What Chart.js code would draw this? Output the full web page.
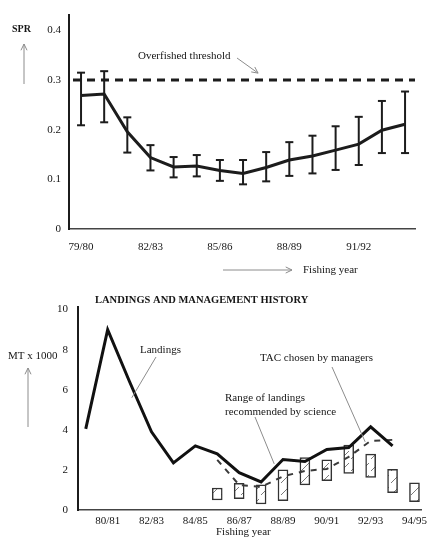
<!DOCTYPE html>
<html>
<head>
<meta charset="utf-8">
<script src="https://cdn.jsdelivr.net/npm/chart.js@4.4.1/dist/chart.umd.min.js"></script>
<style>
html, body { margin: 0; padding: 0; background: #fff; }
#wrap { position: relative; width: 432px; height: 537px; overflow: hidden; }
#top { position: absolute; left: 0; top: 0; }
#bottom { position: absolute; left: 0; top: 280px; }
</style>
</head>
<body>
<div id="wrap">
  <canvas id="top" width="432" height="280"></canvas>
  <canvas id="bottom" width="432" height="257"></canvas>
</div>
<script>
// --- SPR panel data
const sprYears = ['79/80', '80/81', '81/82', '82/83', '83/84', '84/85', '85/86', '86/87', '87/88', '88/89', '89/90', '90/91', '91/92', '92/93', '93/94']
const spr = [0.269, 0.272, 0.196, 0.144, 0.125, 0.127, 0.118, 0.112, 0.124, 0.139, 0.147, 0.159, 0.171, 0.199, 0.211]
const sprHi = [0.315, 0.318, 0.225, 0.169, 0.145, 0.149, 0.139, 0.139, 0.155, 0.175, 0.188, 0.207, 0.226, 0.258, 0.277]
const sprLo = [0.209, 0.215, 0.154, 0.118, 0.104, 0.106, 0.097, 0.090, 0.096, 0.107, 0.112, 0.119, 0.129, 0.153, 0.153]
const sprTickIdx = [0, 3, 6, 9, 12]
const sprTicks = [0, 0.1, 0.2, 0.3, 0.4]
const threshold = 0.3

// --- landings panel data
const landYears = ['79/80', '80/81', '81/82', '82/83', '83/84', '84/85', '85/86', '86/87', '87/88', '88/89', '89/90', '90/91', '91/92', '92/93', '93/94', '94/95']
const landings = [4.05, 9.0, 6.4, 3.9, 2.35, 3.2, 2.8, 1.86, 1.4, 2.52, 2.42, 3.02, 3.12, 4.15, 3.2]
const tacIdx = [6, 7, 8, 9, 10, 11, 12, 13, 14]
const tac = [2.5, 1.25, 1.15, 1.68, 1.95, 2.05, 2.65, 3.45, 3.5]
const boxIdx = [6, 7, 8, 9, 10, 11, 12, 13, 14, 15]
const boxLo = [0.5, 0.57, 0.3, 0.46, 1.25, 1.46, 1.83, 1.63, 0.86, 0.41]
const boxHi = [1.1, 1.33, 1.25, 2.0, 2.62, 2.5, 3.24, 2.79, 2.03, 1.36]
const landTickIdx = [1, 3, 5, 7, 9, 11, 13, 15]
const landTicks = [0, 2, 4, 6, 8, 10]

Chart.defaults.font.family = '"Liberation Serif", "DejaVu Serif", serif'
Chart.defaults.font.size = 11
Chart.defaults.color = '#151515'

const INK = '#1c1c1c'
const THIN = '#8c8c8c'

function arrow(ctx, x1, y1, x2, y2) {
    const a = Math.atan2(y2 - y1, x2 - x1)
    ctx.beginPath()
    ctx.moveTo(x1, y1)
    ctx.lineTo(x2, y2)
    ctx.moveTo(x2 - 7 * Math.cos(a - 0.45), y2 - 7 * Math.sin(a - 0.45))
    ctx.lineTo(x2, y2)
    ctx.lineTo(x2 - 7 * Math.cos(a + 0.45), y2 - 7 * Math.sin(a + 0.45))
    ctx.stroke()
}

function line(ctx, x1, y1, x2, y2) {
    ctx.beginPath()
    ctx.moveTo(x1, y1)
    ctx.lineTo(x2, y2)
    ctx.stroke()
}

// notes: plain text labels + leader lines drawn after the chart
function notes(texts, draw) {
    return {
        id: 'notes',
        afterDraw(chart) {
            const ctx = chart.ctx
            ctx.save()
            ctx.fillStyle = '#151515'
            ctx.textBaseline = 'middle'
            ctx.textAlign = 'left'
            texts.forEach(t => {
                ctx.font = (t.bold ? 'bold ' : '') + (t.size || 11) + 'px "Liberation Serif", serif'
                ctx.fillText(t.text, t.x, t.y)
            })
            ctx.strokeStyle = THIN
            ctx.lineWidth = 1
            draw(ctx, chart)
            ctx.restore()
        }
    }
}

const errorBars = {
    id: 'errorBars',
    afterDatasetsDraw(chart) {
        const { ctx, scales: { x, y } } = chart
        ctx.save()
        ctx.strokeStyle = INK
        ctx.lineWidth = 2
        spr.forEach((v, i) => {
            const px = x.getPixelForValue(i)
            const top = y.getPixelForValue(sprHi[i])
            const bot = y.getPixelForValue(sprLo[i])
            line(ctx, px, top, px, bot)
            line(ctx, px - 4, top, px + 4, top)
            line(ctx, px - 4, bot, px + 4, bot)
        })
        ctx.restore()
    }
}

const thresholdLine = {
    id: 'threshold',
    beforeDatasetsDraw(chart) {
        const { ctx, chartArea, scales: { y } } = chart
        const py = y.getPixelForValue(threshold)
        ctx.save()
        ctx.strokeStyle = INK
        ctx.lineWidth = 3
        ctx.setLineDash([8, 6])
        line(ctx, chartArea.left + 4, py, chartArea.right, py)
        ctx.restore()
    }
}

new Chart(document.getElementById('top'), {
    type: 'line',
    data: {
        datasets: [{
            data: spr.map((v, i) => ({ x: i, y: v })),
            borderColor: INK,
            borderWidth: 3,
            pointRadius: 0,
            tension: 0
        }]
    },
    options: {
        responsive: false,
        animation: false,
        devicePixelRatio: 1,
        layout: { autoPadding: false, padding: { top: 12, right: 17, left: 0, bottom: 0 } },
        plugins: { legend: { display: false }, tooltip: { enabled: false } },
        scales: {
            x: {
                type: 'linear',
                min: -0.52,
                max: 14.43,
                grid: { display: false, drawTicks: false },
                border: { color: '#444', width: 1.5 },
                ticks: { padding: 12, autoSkip: false, maxRotation: 0, callback: v => sprYears[v] },
                afterBuildTicks: s => { s.ticks = sprTickIdx.map(v => ({ value: v })) },
                afterFit: s => { s.height = 51 }
            },
            y: {
                min: 0,
                max: 0.432,
                grid: { display: false, drawTicks: false },
                border: { color: INK, width: 2 },
                ticks: { padding: 8, callback: v => (v === 0 ? '0' : v.toFixed(1)) },
                afterBuildTicks: s => { s.ticks = sprTicks.map(v => ({ value: v })) },
                afterFit: s => { s.width = 69 }
            }
        }
    },
    plugins: [thresholdLine, errorBars, notes([
        { text: 'SPR', x: 12, y: 29, bold: true, size: 10 },
        { text: 'Overfished threshold', x: 138, y: 56 },
        { text: 'Fishing year', x: 303, y: 270 }
    ], (ctx, chart) => {
        const { x, y } = chart.scales
        arrow(ctx, 24, 84, 24, 44)
        arrow(ctx, 237, 58, x.getPixelForValue(7.65), y.getPixelForValue(threshold) - 7)
        arrow(ctx, 223, 270, 292, 270)
    })]
})

// hatch fill for the science ranges
const tile = document.createElement('canvas')
tile.width = 10
tile.height = 12
const tc = tile.getContext('2d')
tc.fillStyle = '#fff'
tc.fillRect(0, 0, 10, 12)
tc.strokeStyle = '#7a7a7a'
tc.lineWidth = 1
line(tc, 1, 11, 9, 3)
const hatch = document.getElementById('bottom').getContext('2d').createPattern(tile, 'repeat')

new Chart(document.getElementById('bottom'), {
    type: 'line',
    data: {
        datasets: [
            {
                data: landings.map((v, i) => ({ x: i, y: v })),
                borderColor: '#111',
                borderWidth: 3,
                pointRadius: 0,
                tension: 0,
                order: 0
            },
            {
                data: tac.map((v, k) => ({ x: tacIdx[k], y: v })),
                borderColor: '#3a3a3a',
                borderWidth: 2,
                borderDash: [6, 6],
                pointRadius: 0,
                tension: 0,
                order: 1
            },
            {
                type: 'bar',
                data: boxLo.map((v, k) => ({ x: boxIdx[k], y: [v, boxHi[k]] })),
                backgroundColor: hatch,
                borderColor: '#333',
                borderWidth: 1.5,
                borderSkipped: false,
                barThickness: 10,
                order: 2
            }
        ]
    },
    options: {
        responsive: false,
        animation: false,
        devicePixelRatio: 1,
        layout: { autoPadding: false, padding: { top: 27, right: 0, left: 0, bottom: 0 } },
        plugins: { legend: { display: false }, tooltip: { enabled: false } },
        scales: {
            x: {
                type: 'linear',
                offset: false,
                min: -0.354,
                max: 15.31,
                grid: { display: false, drawTicks: false, offset: false },
                border: { color: '#444', width: 1.5 },
                ticks: { padding: 5, autoSkip: false, maxRotation: 0, callback: v => landYears[v] },
                afterBuildTicks: s => { s.ticks = landTickIdx.map(v => ({ value: v })) },
                afterFit: s => { s.height = 27 }
            },
            y: {
                min: 0,
                max: 10.13,
                grid: { display: false, drawTicks: false },
                border: { color: INK, width: 2 },
                ticks: { padding: 10 },
                afterBuildTicks: s => { s.ticks = landTicks.map(v => ({ value: v })) },
                afterFit: s => { s.width = 78 }
            }
        }
    },
    plugins: [notes([
        { text: 'LANDINGS AND MANAGEMENT HISTORY', x: 95, y: 20, size: 10.5, bold: true },
        { text: 'MT x 1000', x: 8, y: 76 },
        { text: 'Landings', x: 140, y: 70 },
        { text: 'TAC chosen by managers', x: 260, y: 78 },
        { text: 'Range of landings', x: 225, y: 118 },
        { text: 'recommended by science', x: 225, y: 132 },
        { text: 'Fishing year', x: 216, y: 252 }
    ], (ctx, chart) => {
        const { x, y } = chart.scales
        arrow(ctx, 28, 147, 28, 88)
        line(ctx, 156, 77, x.getPixelForValue(2.1), y.getPixelForValue(5.6))
        line(ctx, 332, 87, x.getPixelForValue(12.75), y.getPixelForValue(3.4))
        line(ctx, 255, 137, x.getPixelForValue(8.6), y.getPixelForValue(2.3))
    })]
})
</script>
</body>
</html>
